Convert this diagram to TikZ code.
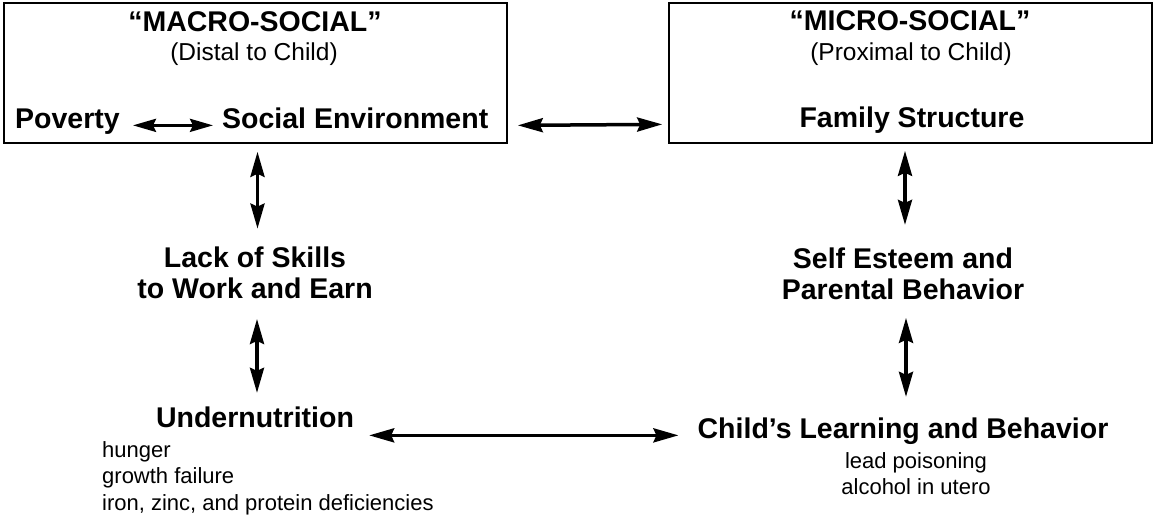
\documentclass[tikz,border=0pt]{standalone}
\usepackage{fontspec}
\setmainfont{Liberation Sans}
\usetikzlibrary{arrows.meta,calc}
\begin{document}
\begin{tikzpicture}[x=1pt,y=-1pt,
  box/.style={draw, line width=1.6pt, inner sep=0pt, minimum width=#1, minimum height=140pt},
  bigtxt/.style={font=\fontsize{28.5}{31}\selectfont\bfseries, inner sep=0pt},
  subtxt/.style={font=\fontsize{24.5}{31}\selectfont, inner sep=0pt},
  smalltxt/.style={font=\fontsize{22}{26.5}\selectfont, inner sep=0pt},
  arr/.style={arrows={Stealth[length=25pt,width=14pt,inset=3pt]-Stealth[length=25pt,width=14pt,inset=3pt]}, line width=3.5pt},
  sarr/.style={arrows={Stealth[length=23pt,width=13pt,inset=3pt]-Stealth[length=23pt,width=13pt,inset=3pt]}, line width=3pt}]
\useasboundingbox (0,0) rectangle (1154,515);
\node[box=503pt] (macro) at (255.5,73) {};
\node[box=483pt] (micro) at (910.5,73) {};
\node[bigtxt, anchor=base] (macrot) at (255,31) {“MACRO-SOCIAL”};
\node[subtxt, anchor=base] (distal) at (254,60) {(Distal to Child)};
\node[bigtxt, anchor=base] (microt) at (910,30.5) {“MICRO-SOCIAL”};
\node[subtxt, anchor=base] (proximal) at (911,60) {(Proximal to Child)};
\node[bigtxt, anchor=base west] (pov) at (15,128) {Poverty};
\node[bigtxt, anchor=base west] (socenv) at (222,128) {Social Environment};
\node[bigtxt, anchor=base] (fam) at (912,127) {Family Structure};
\node[bigtxt, anchor=north, align=center] (lack) at (255,246.6) {Lack of Skills\\to Work and Earn};
\node[bigtxt, anchor=north, align=center] (self) at (903,247.5) {Self Esteem and\\Parental Behavior};
\node[bigtxt, anchor=base] (under) at (255,427) {Undernutrition};
\node[smalltxt, anchor=north west, align=left] (underlist) at (102,441) {hunger\\growth failure\\iron, zinc, and protein deficiencies};
\node[bigtxt, anchor=base] (child) at (903,438) {Child’s Learning and Behavior};
\node[smalltxt, anchor=north, align=center] (childlist) at (916,452) {lead poisoning\\alcohol in utero};
\draw[sarr] ($(pov.mid east)+(13,0)$) -- ($(socenv.mid west)+(-9,0)$);
\draw[arr] ($(socenv.mid -| macro.east)+(10,0)$) -- ($(fam.mid -| micro.west)+(-6,0)$);
\draw[arr] ($(macro.south)+(2,8)$) -- ($(lack.north)+(2.5,-18)$);
\draw[arr] ($(lack.south)+(2,20)$) -- ($(under.north)+(2,-13.3)$);
\draw[arr] ($(micro.south)+(-5.5,7)$) -- ($(self.north)+(2,-22.6)$);
\draw[arr] ($(self.south)+(3,18)$) -- ($(child.north)+(3,-20.3)$);
\draw[arr] ($(child.mid -| under.east)+(15,0)$) -- ($(child.mid west)+(-19,0)$);
\end{tikzpicture}
\end{document}
